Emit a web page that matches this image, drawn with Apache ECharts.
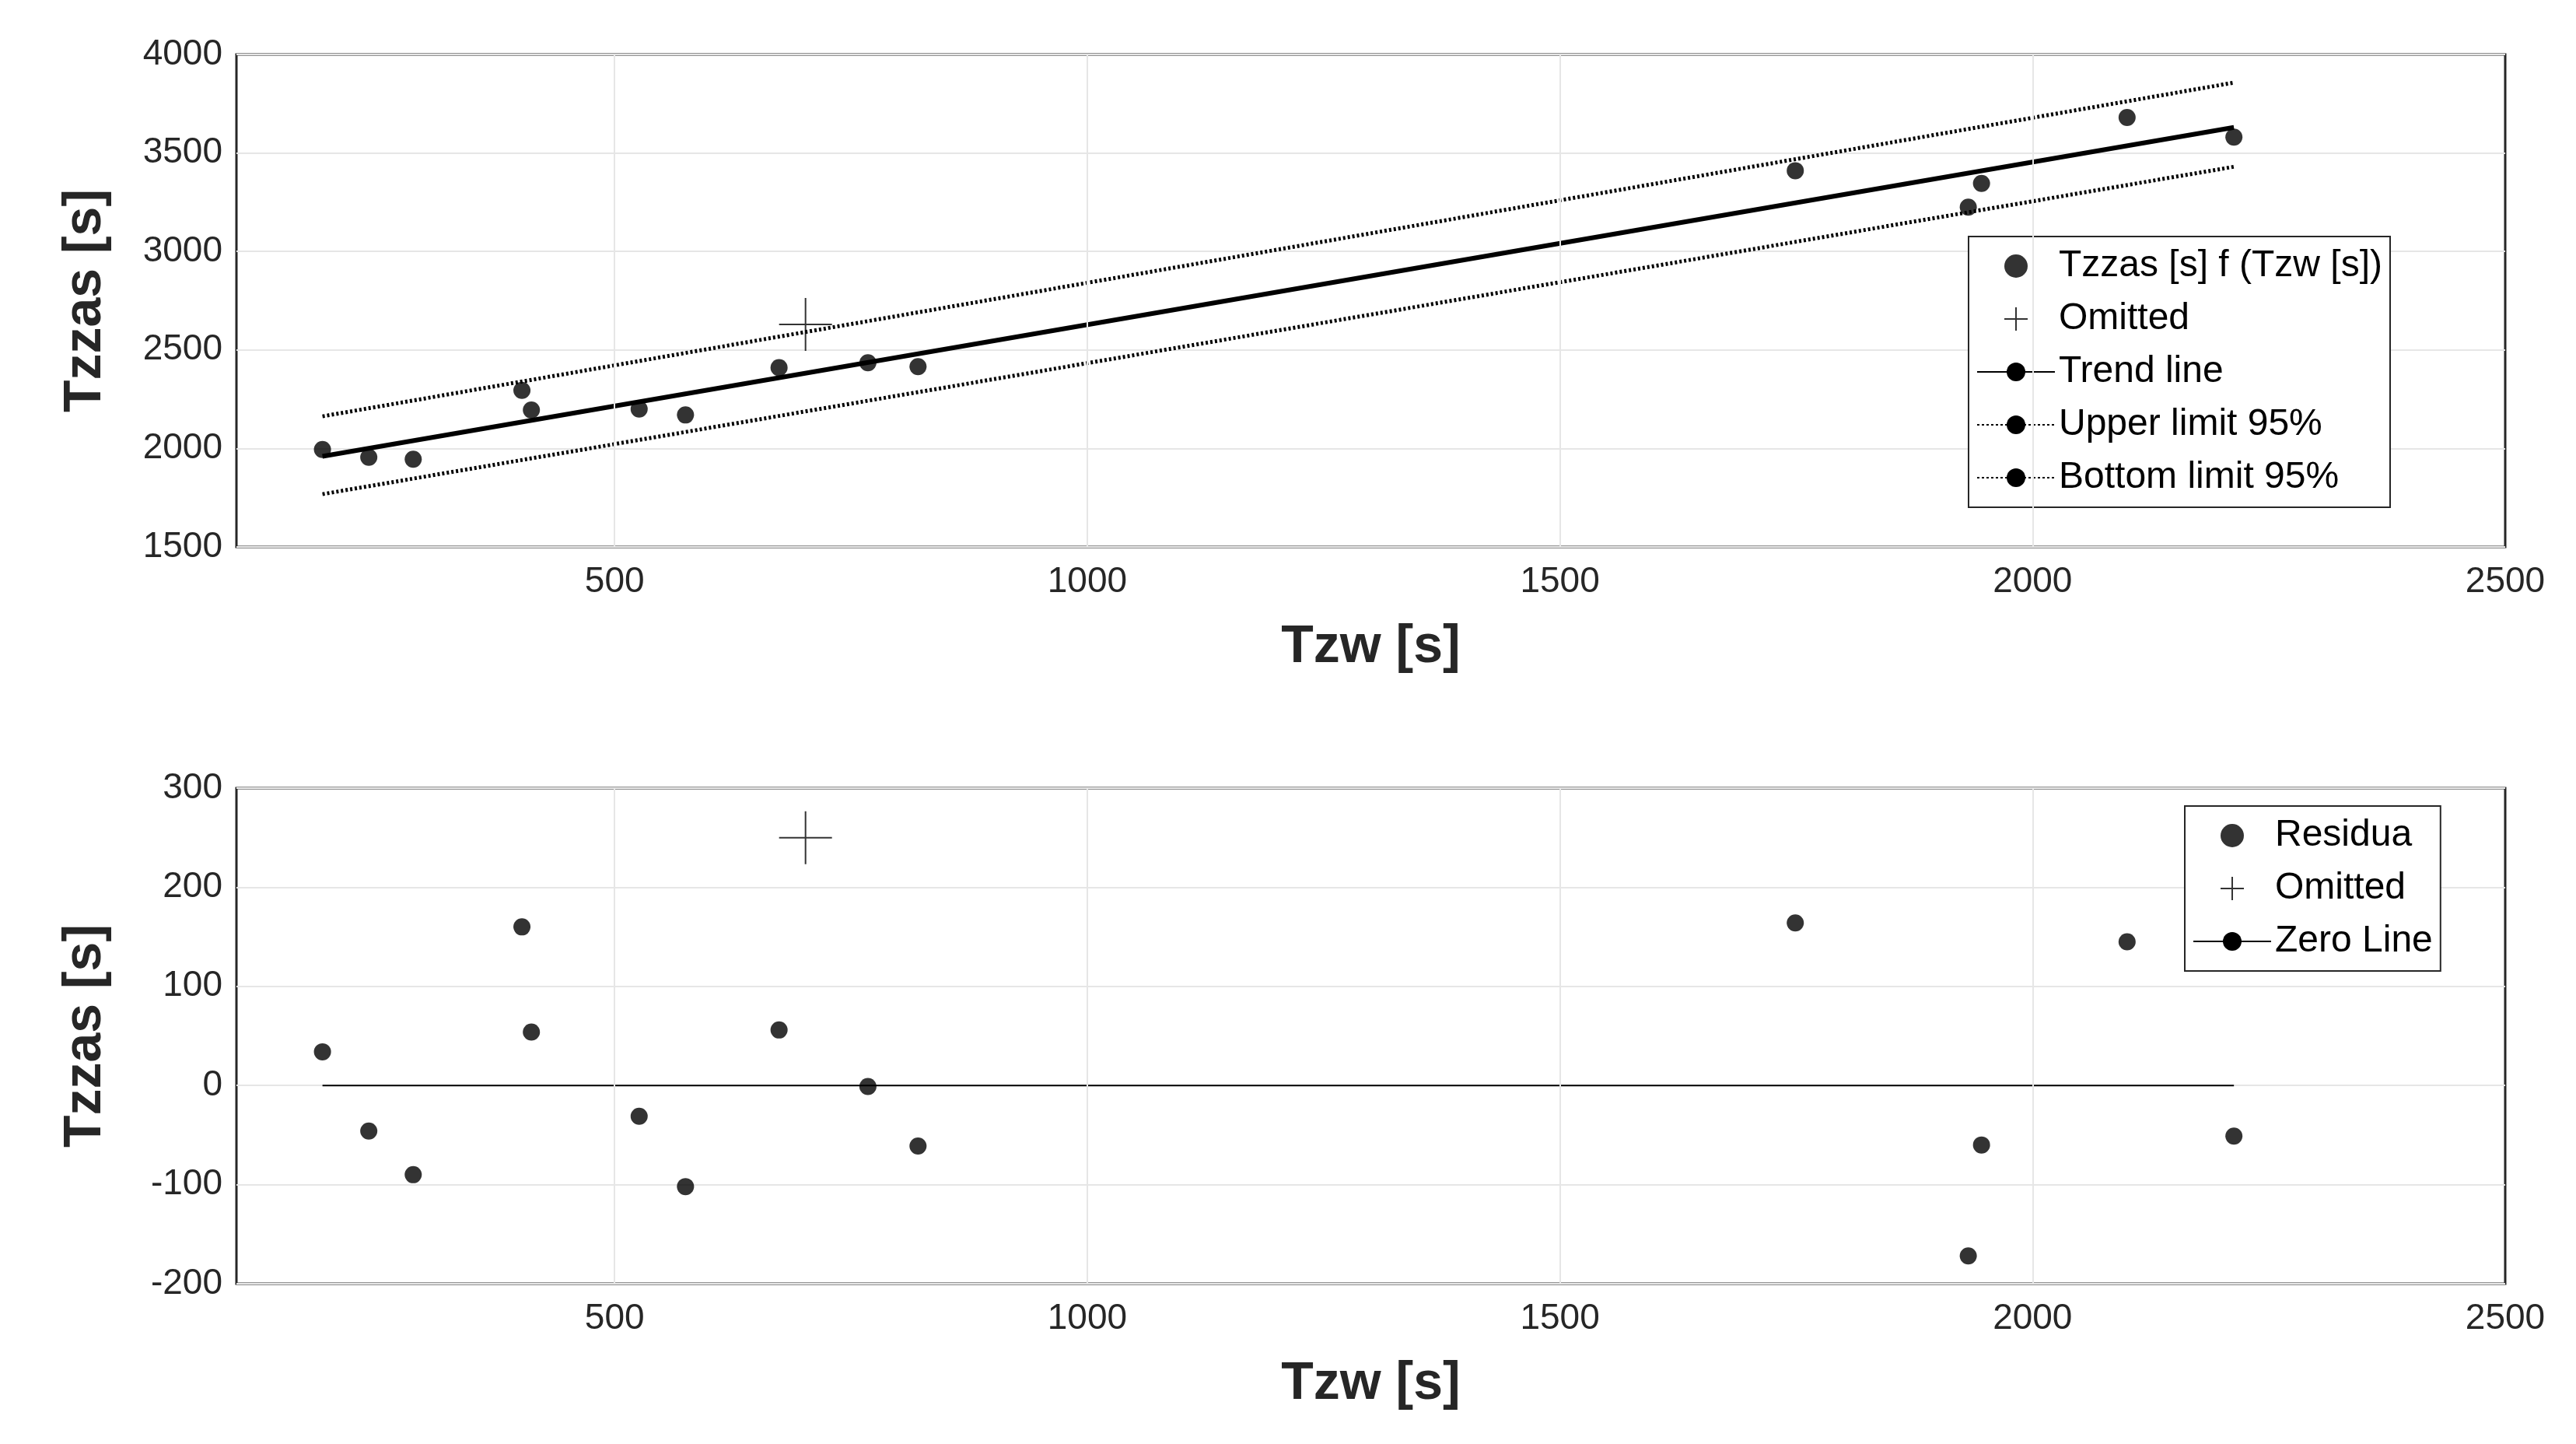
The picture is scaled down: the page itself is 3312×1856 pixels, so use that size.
<!DOCTYPE html>
<html>
<head>
<meta charset="utf-8">
<script src="https://cdn.jsdelivr.net/npm/echarts@6/dist/echarts.min.js"></script>
<style>html,body{margin:0;padding:0;background:#fff}#main{width:3312px;height:1856px}</style>
</head>
<body>
<div id="main"></div>
<script>
// measured points
var tzw = [191, 240, 287, 402, 412, 526, 575, 674, 768, 821, 1749, 1932, 1946, 2100, 2213];
var tzzas = [1995, 1955, 1945, 2295, 2195, 2200, 2170, 2410, 2435, 2415, 3410, 3225, 3345, 3680, 3580];
var residua = [34, -46, -90, 160, 54, -31, -102, 56, -1, -61, 164, -172, -60, 145, -51];
var omittedX = [702];
var omittedY = [2630];
var omittedRes = [250];
// trend and 95% limits at the ends of the fitted range
var lineX = [191, 2213];
var trend = [1960, 3630];
var upper = [2163, 3857];
var lower = [1768, 3430];
var zeroLine = [0, 0];
var xGrid = [500, 1000, 1500, 2000];

var font = '"Liberation Sans", Arial, sans-serif';
var plusPath = 'path://M0,10L20,10M10,0L10,20';

function pairs(xs, ys) {
    var out = [];
    for (var i = 0; i < xs.length; i++) out.push([xs[i], ys[i]]);
    return out;
}

function gridLines(xs) {
    var d = [];
    xs.forEach(function (v) { d.push({ xAxis: v }); });
    return d;
}

function xAxisOf(idx) {
    return {
        gridIndex: idx, type: 'value', min: 100, max: 2500, interval: 100,
        name: 'Tzw [s]', nameLocation: 'middle', nameGap: 95,
        nameTextStyle: { fontFamily: font, fontSize: 68, fontWeight: 'bold', color: '#262626' },
        axisLine: { show: false }, axisTick: { show: false }, splitLine: { show: false },
        axisLabel: {
            fontFamily: font, fontSize: 46, color: '#262626', margin: 22,
            formatter: function (v) { return v % 500 === 0 && v > 100 ? String(v) : ''; }
        }
    };
}

function yAxisOf(idx, min, max, step) {
    return {
        gridIndex: idx, type: 'value', min: min, max: max, interval: step,
        name: 'Tzzas [s]', nameLocation: 'middle', nameGap: 160,
        nameTextStyle: { fontFamily: font, fontSize: 68, fontWeight: 'bold', color: '#262626' },
        axisLine: { show: false }, axisTick: { show: false },
        splitLine: { show: true, lineStyle: { color: '#e6e6e6', width: 2 } },
        axisLabel: { fontFamily: font, fontSize: 46, color: '#262626', margin: 18,
            formatter: function (v) { return String(v); } }
    };
}

var legendText = { fontFamily: font, fontSize: 48, color: '#000' };
var blackItem = { color: '#000' };

var option = {
    backgroundColor: '#fff',
    animation: false,
    grid: [
        { left: 304, right: 91, top: 70, height: 633, show: true, borderColor: '#262626', borderWidth: 3, backgroundColor: 'transparent' },
        { left: 304, right: 91, top: 1013, height: 637, show: true, borderColor: '#262626', borderWidth: 3, backgroundColor: 'transparent' }
    ],
    xAxis: [xAxisOf(0), xAxisOf(1)],
    yAxis: [yAxisOf(0, 1500, 4000, 500), yAxisOf(1, -200, 300, 100)],
    legend: [
        {
            orient: 'vertical', left: 2531, top: 304, itemWidth: 100, itemHeight: 30, itemGap: 20,
            padding: [14, 10, 14, 10], backgroundColor: '#fff', borderColor: '#262626', borderWidth: 2,
            textStyle: legendText, itemStyle: blackItem,
            data: [
                { name: 'Tzzas [s] f (Tzw [s])', icon: 'circle' },
                { name: 'Omitted' },
                { name: 'Trend line' },
                { name: 'Upper limit 95%' },
                { name: 'Bottom limit 95%' }
            ]
        },
        {
            orient: 'vertical', left: 2809, top: 1036, itemWidth: 100, itemHeight: 30, itemGap: 20,
            padding: [14, 10, 14, 10], backgroundColor: '#fff', borderColor: '#262626', borderWidth: 2,
            textStyle: legendText, itemStyle: blackItem,
            data: [
                { name: 'Residua', icon: 'circle' },
                { name: 'Omitted ' },
                { name: 'Zero Line' }
            ]
        }
    ],
    series: [
        {
            name: 'grid-top', type: 'line', xAxisIndex: 0, yAxisIndex: 0, data: [], silent: true,
            markLine: { symbol: 'none', silent: true, label: { show: false },
                lineStyle: { color: '#e6e6e6', width: 2, type: 'solid' }, data: gridLines(xGrid) }
        },
        {
            name: 'grid-bot', type: 'line', xAxisIndex: 1, yAxisIndex: 1, data: [], silent: true,
            markLine: { symbol: 'none', silent: true, label: { show: false },
                lineStyle: { color: '#e6e6e6', width: 2, type: 'solid' }, data: gridLines(xGrid) }
        },
        {
            name: 'Tzzas [s] f (Tzw [s])', type: 'scatter', xAxisIndex: 0, yAxisIndex: 0,
            symbol: 'circle', symbolSize: 22, itemStyle: { color: '#000' }, data: pairs(tzw, tzzas), z: 5
        },
        {
            name: 'Omitted', type: 'scatter', xAxisIndex: 0, yAxisIndex: 0,
            symbol: plusPath, symbolSize: 68,
            itemStyle: { color: 'none', borderColor: '#000', borderWidth: 2 }, data: pairs(omittedX, omittedY)
        },
        {
            name: 'Trend line', type: 'line', xAxisIndex: 0, yAxisIndex: 0, symbol: 'none', showSymbol: false,
            itemStyle: { color: '#000' }, lineStyle: { color: '#000', width: 6 }, data: pairs(lineX, trend)
        },
        {
            name: 'Upper limit 95%', type: 'line', xAxisIndex: 0, yAxisIndex: 0, symbol: 'none', showSymbol: false,
            itemStyle: { color: '#000' }, lineStyle: { color: '#000', width: 5, type: [3, 3] }, data: pairs(lineX, upper)
        },
        {
            name: 'Bottom limit 95%', type: 'line', xAxisIndex: 0, yAxisIndex: 0, symbol: 'none', showSymbol: false,
            itemStyle: { color: '#000' }, lineStyle: { color: '#000', width: 5, type: [3, 3] }, data: pairs(lineX, lower)
        },
        {
            name: 'Residua', type: 'scatter', xAxisIndex: 1, yAxisIndex: 1,
            symbol: 'circle', symbolSize: 22, itemStyle: { color: '#000' }, data: pairs(tzw, residua), z: 5
        },
        {
            name: 'Omitted ', type: 'scatter', xAxisIndex: 1, yAxisIndex: 1,
            symbol: plusPath, symbolSize: 68,
            itemStyle: { color: 'none', borderColor: '#000', borderWidth: 2 }, data: pairs(omittedX, omittedRes)
        },
        {
            name: 'Zero Line', type: 'line', xAxisIndex: 1, yAxisIndex: 1, symbol: 'none', showSymbol: false,
            itemStyle: { color: '#000' }, lineStyle: { color: '#000', width: 2 }, data: pairs(lineX, zeroLine)
        }
    ]
};

var myChart = echarts.init(document.getElementById('main'));
myChart.setOption(option, true);
</script>
</body>
</html>
